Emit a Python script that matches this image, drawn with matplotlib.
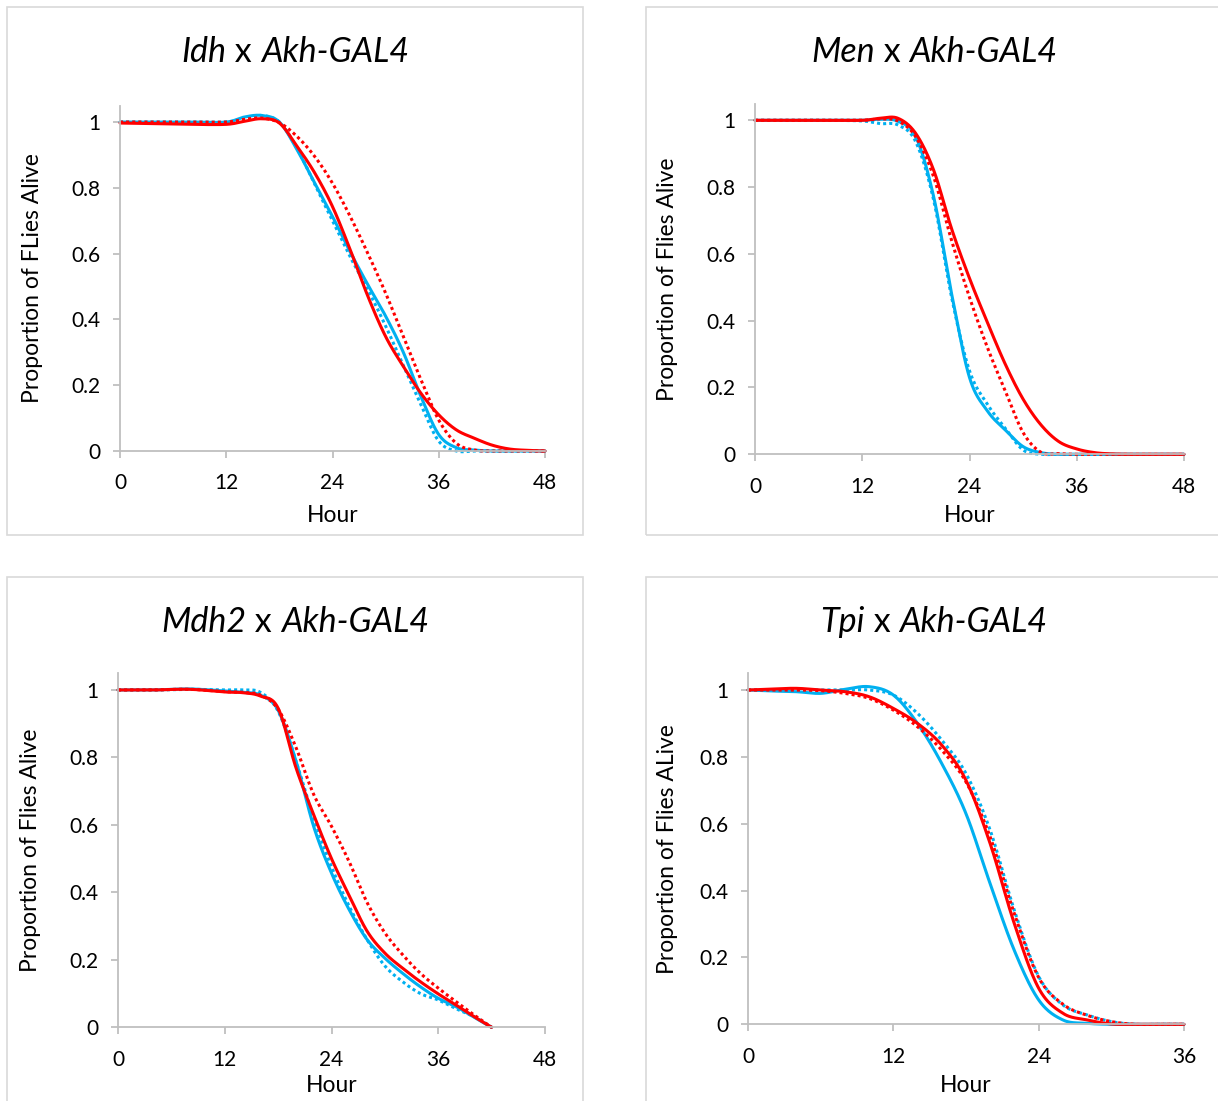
import numpy as np
import matplotlib
matplotlib.use("Agg")
import matplotlib.pyplot as plt
from matplotlib.patches import Rectangle
from matplotlib.ticker import FuncFormatter
from matplotlib.offsetbox import TextArea, HPacker, AnnotationBbox

W, H = 1218, 1101
CYAN = "#00B0F0"
RED = "#FF0000"
AXC = "#BFBFBF"
BOXC = "#D9D9D9"

plt.rcParams["font.family"] = ["Lato", "DejaVu Sans"]

# ---- Idh x Akh-GAL4 ----
idh_hours = [0, 4, 8, 12, 14, 16, 18, 20, 22, 24, 26, 28, 30, 32, 34, 36, 38, 40, 42, 44, 46, 48]
idh_cyan = [1.0, 1.0, 1.0, 1.0, 1.015, 1.02, 1.0, 0.916, 0.814, 0.713, 0.605, 0.505, 0.41, 0.30, 0.165, 0.05, 0.01, 0.003, 0, 0, 0, 0]
idh_cyan_dot = [1.0, 1.0, 1.0, 1.0, 1.012, 1.02, 1.0, 0.92, 0.81, 0.70, 0.59, 0.49, 0.38, 0.26, 0.14, 0.03, 0, 0, 0, 0, 0, 0]
idh_red = [0.997, 0.995, 0.993, 0.993, 1.002, 1.01, 0.997, 0.926, 0.845, 0.743, 0.612, 0.47, 0.348, 0.257, 0.175, 0.11, 0.064, 0.039, 0.018, 0.006, 0.002, 0]
idh_red_dot = [1.0, 1.0, 1.0, 1.0, 1.008, 1.012, 0.998, 0.956, 0.895, 0.814, 0.713, 0.60, 0.48, 0.348, 0.216, 0.094, 0.023, 0.003, 0, 0, 0, 0]

# ---- Men x Akh-GAL4 ----
men_hours = [0, 4, 8, 12, 14, 16, 18, 20, 22, 24, 26, 28, 30, 32, 34, 36, 38, 40, 42, 44, 46, 48]
men_cyan = [1.0, 1.0, 1.0, 1.0, 1.003, 0.997, 0.95, 0.77, 0.48, 0.23, 0.13, 0.073, 0.023, 0.005, 0, 0, 0, 0, 0, 0, 0, 0]
men_cyan_dot = [1.0, 1.0, 1.0, 0.998, 0.99, 0.986, 0.935, 0.76, 0.47, 0.25, 0.15, 0.078, 0.013, 0, 0, 0, 0, 0, 0, 0, 0, 0]
men_red = [1.0, 1.0, 1.0, 1.0, 1.006, 1.006, 0.96, 0.85, 0.675, 0.527, 0.395, 0.27, 0.165, 0.088, 0.038, 0.016, 0.005, 0.001, 0, 0, 0, 0]
men_red_dot = [1.0, 1.0, 1.0, 1.0, 1.004, 0.998, 0.95, 0.83, 0.64, 0.47, 0.32, 0.19, 0.065, 0.006, 0.002, 0, 0, 0, 0, 0, 0, 0]

# ---- Mdh2 x Akh-GAL4 ----
mdh_hours = [0, 4, 8, 12, 14, 16, 18, 20, 22, 24, 26, 28, 30, 32, 34, 36, 38, 40, 42]
mdh_cyan = [1.0, 1.0, 1.003, 0.997, 0.993, 0.985, 0.94, 0.79, 0.595, 0.457, 0.348, 0.26, 0.205, 0.16, 0.12, 0.086, 0.061, 0.03, 0]
mdh_cyan_dot = [1.0, 1.0, 1.002, 1.0, 1.0, 0.993, 0.937, 0.79, 0.62, 0.476, 0.358, 0.26, 0.182, 0.135, 0.10, 0.081, 0.055, 0.032, 0]
mdh_red = [1.0, 1.0, 1.002, 0.994, 0.992, 0.982, 0.946, 0.77, 0.63, 0.50, 0.39, 0.285, 0.22, 0.175, 0.135, 0.099, 0.066, 0.032, 0]
mdh_red_dot = [1.0, 1.0, 1.002, 0.995, 0.993, 0.985, 0.943, 0.83, 0.69, 0.596, 0.49, 0.37, 0.28, 0.215, 0.16, 0.116, 0.076, 0.037, 0]

# ---- Tpi x Akh-GAL4 ----
tpi_hours = [0, 2, 4, 6, 8, 10, 12, 14, 16, 18, 20, 22, 24, 26, 28, 30, 32, 34, 36]
tpi_cyan = [1.0, 0.997, 0.995, 0.99, 1.002, 1.01, 0.985, 0.90, 0.78, 0.63, 0.42, 0.22, 0.073, 0.013, 0.003, 0, 0, 0, 0]
tpi_cyan_dot = [1.0, 1.0, 1.0, 1.0, 1.0, 1.0, 0.985, 0.93, 0.85, 0.75, 0.58, 0.34, 0.143, 0.058, 0.028, 0.008, 0, 0, 0]
tpi_red = [1.0, 1.003, 1.005, 1.0, 0.995, 0.98, 0.945, 0.90, 0.835, 0.73, 0.54, 0.30, 0.108, 0.033, 0.013, 0.001, 0, 0, 0]
tpi_red_dot = [1.0, 1.0, 1.0, 0.998, 0.99, 0.975, 0.94, 0.89, 0.82, 0.725, 0.56, 0.33, 0.14, 0.06, 0.027, 0.008, 0, 0, 0]

FS = 15      # tick label size
FS_L = 16.5  # axis label size
FS_T = 24.5  # title size


def smooth(x, y, n=24):
    # Excel style smoothed line: cubic bezier through every point
    p = np.column_stack([x, y]).astype(float)
    p = np.vstack([p[:1], p, p[-1:]])
    t = np.linspace(0, 1, n + 1)[1:, None]
    out = [p[1]]
    for i in range(1, len(p) - 2):
        a, d = p[i], p[i + 1]
        b = a + (p[i + 1] - p[i - 1]) / 6.0
        c = d - (p[i + 2] - p[i]) / 6.0
        seg = (1 - t) ** 3 * a + 3 * (1 - t) ** 2 * t * b + 3 * (1 - t) * t ** 2 * c + t ** 3 * d
        out.append(seg)
    out = np.vstack(out)
    return out[:, 0], out[:, 1]


def fx(px):
    return px / W


def fy(py):
    return 1 - py / H


def panel(box, axpx, gene, ylabel, xmax, hours, cyan, cyan_dot, red, red_dot, ylab_x, xlab_y):
    bx0, by0, bx1, by1 = box
    fig.patches.append(Rectangle((fx(bx0), fy(by1)), fx(bx1 - bx0), (by1 - by0) / H,
                                 transform=fig.transFigure, fill=False,
                                 edgecolor=BOXC, linewidth=1.2, zorder=0))
    left, top, right, bottom = axpx
    ax = fig.add_axes([fx(left), fy(bottom), fx(right - left), (bottom - top) / H])
    ax.set_xlim(0, xmax)
    ax.set_ylim(0, 1.05)
    ax.set_xticks(np.arange(0, xmax + 1, 12))
    ax.set_yticks(np.arange(0, 1.01, 0.2))
    ax.yaxis.set_major_formatter(FuncFormatter(lambda v, pos: "%g" % round(v, 1)))
    for s in ["top", "right"]:
        ax.spines[s].set_visible(False)
    for s in ["left", "bottom"]:
        ax.spines[s].set_color(AXC)
        ax.spines[s].set_linewidth(1.3)
    ax.tick_params(axis="both", colors=AXC, width=1.3, length=5, labelsize=FS,
                   labelcolor="#000000")
    ax.tick_params(axis="y", pad=9)
    ax.tick_params(axis="x", pad=11)
    ax.patch.set_alpha(0)

    sx, sy = smooth(hours, cyan)
    ax.plot(sx, sy, color=CYAN, lw=2.2, solid_capstyle="round", clip_on=False)
    sx, sy = smooth(hours, cyan_dot)
    ax.plot(sx, sy, color=CYAN, lw=2.2, linestyle=(0, (1, 1)), dash_capstyle="butt", clip_on=False)
    sx, sy = smooth(hours, red)
    ax.plot(sx, sy, color=RED, lw=2.2, solid_capstyle="round", clip_on=False)
    sx, sy = smooth(hours, red_dot)
    ax.plot(sx, sy, color=RED, lw=2.2, linestyle=(0, (1, 1)), dash_capstyle="butt", clip_on=False)

    # title: gene names in italics
    tp_it = dict(fontsize=FS_T, style="italic", color="black")
    tp_rm = dict(fontsize=FS_T, color="black")
    title = HPacker(children=[TextArea(gene, textprops=tp_it),
                              TextArea(" x ", textprops=tp_rm),
                              TextArea("Akh-GAL4", textprops=tp_it)],
                    sep=0, pad=0, align="baseline")
    fig.add_artist(AnnotationBbox(title, ((bx0 + bx1) / 2 / W, fy(by0 + 45)),
                                  xycoords="figure fraction", frameon=False,
                                  box_alignment=(0.5, 0.5)))
    fig.text(fx(ylab_x), fy((top + bottom) / 2), ylabel, rotation=90,
             ha="center", va="center", fontsize=FS_L)
    fig.text(fx((left + right) / 2), fy(xlab_y), "Hour", ha="center", va="center", fontsize=FS_L)
    return ax


fig = plt.figure(figsize=(W / 100, H / 100), dpi=100)
fig.patch.set_facecolor("white")

panel((7, 7, 583, 535), (120, 105.6, 545, 451), "Idh", "Proportion of FLies Alive", 48,
      idh_hours, idh_cyan, idh_cyan_dot, idh_red, idh_red_dot, 33, 516)
panel((646, 7, 1222, 535), (755, 103.6, 1184, 454.3), "Men", "Proportion of Flies Alive", 48,
      men_hours, men_cyan, men_cyan_dot, men_red, men_red_dot, 668, 516)
panel((7, 577, 583, 1105), (118, 673.1, 545, 1027.3), "Mdh2", "Proportion of Flies Alive", 48,
      mdh_hours, mdh_cyan, mdh_cyan_dot, mdh_red, mdh_red_dot, 31, 1086)
panel((646, 577, 1222, 1105), (748, 673.3, 1184, 1024.3), "Tpi", "Proportion of Flies ALive", 36,
      tpi_hours, tpi_cyan, tpi_cyan_dot, tpi_red, tpi_red_dot, 668, 1086)

fig.savefig("out.png", dpi=100)
